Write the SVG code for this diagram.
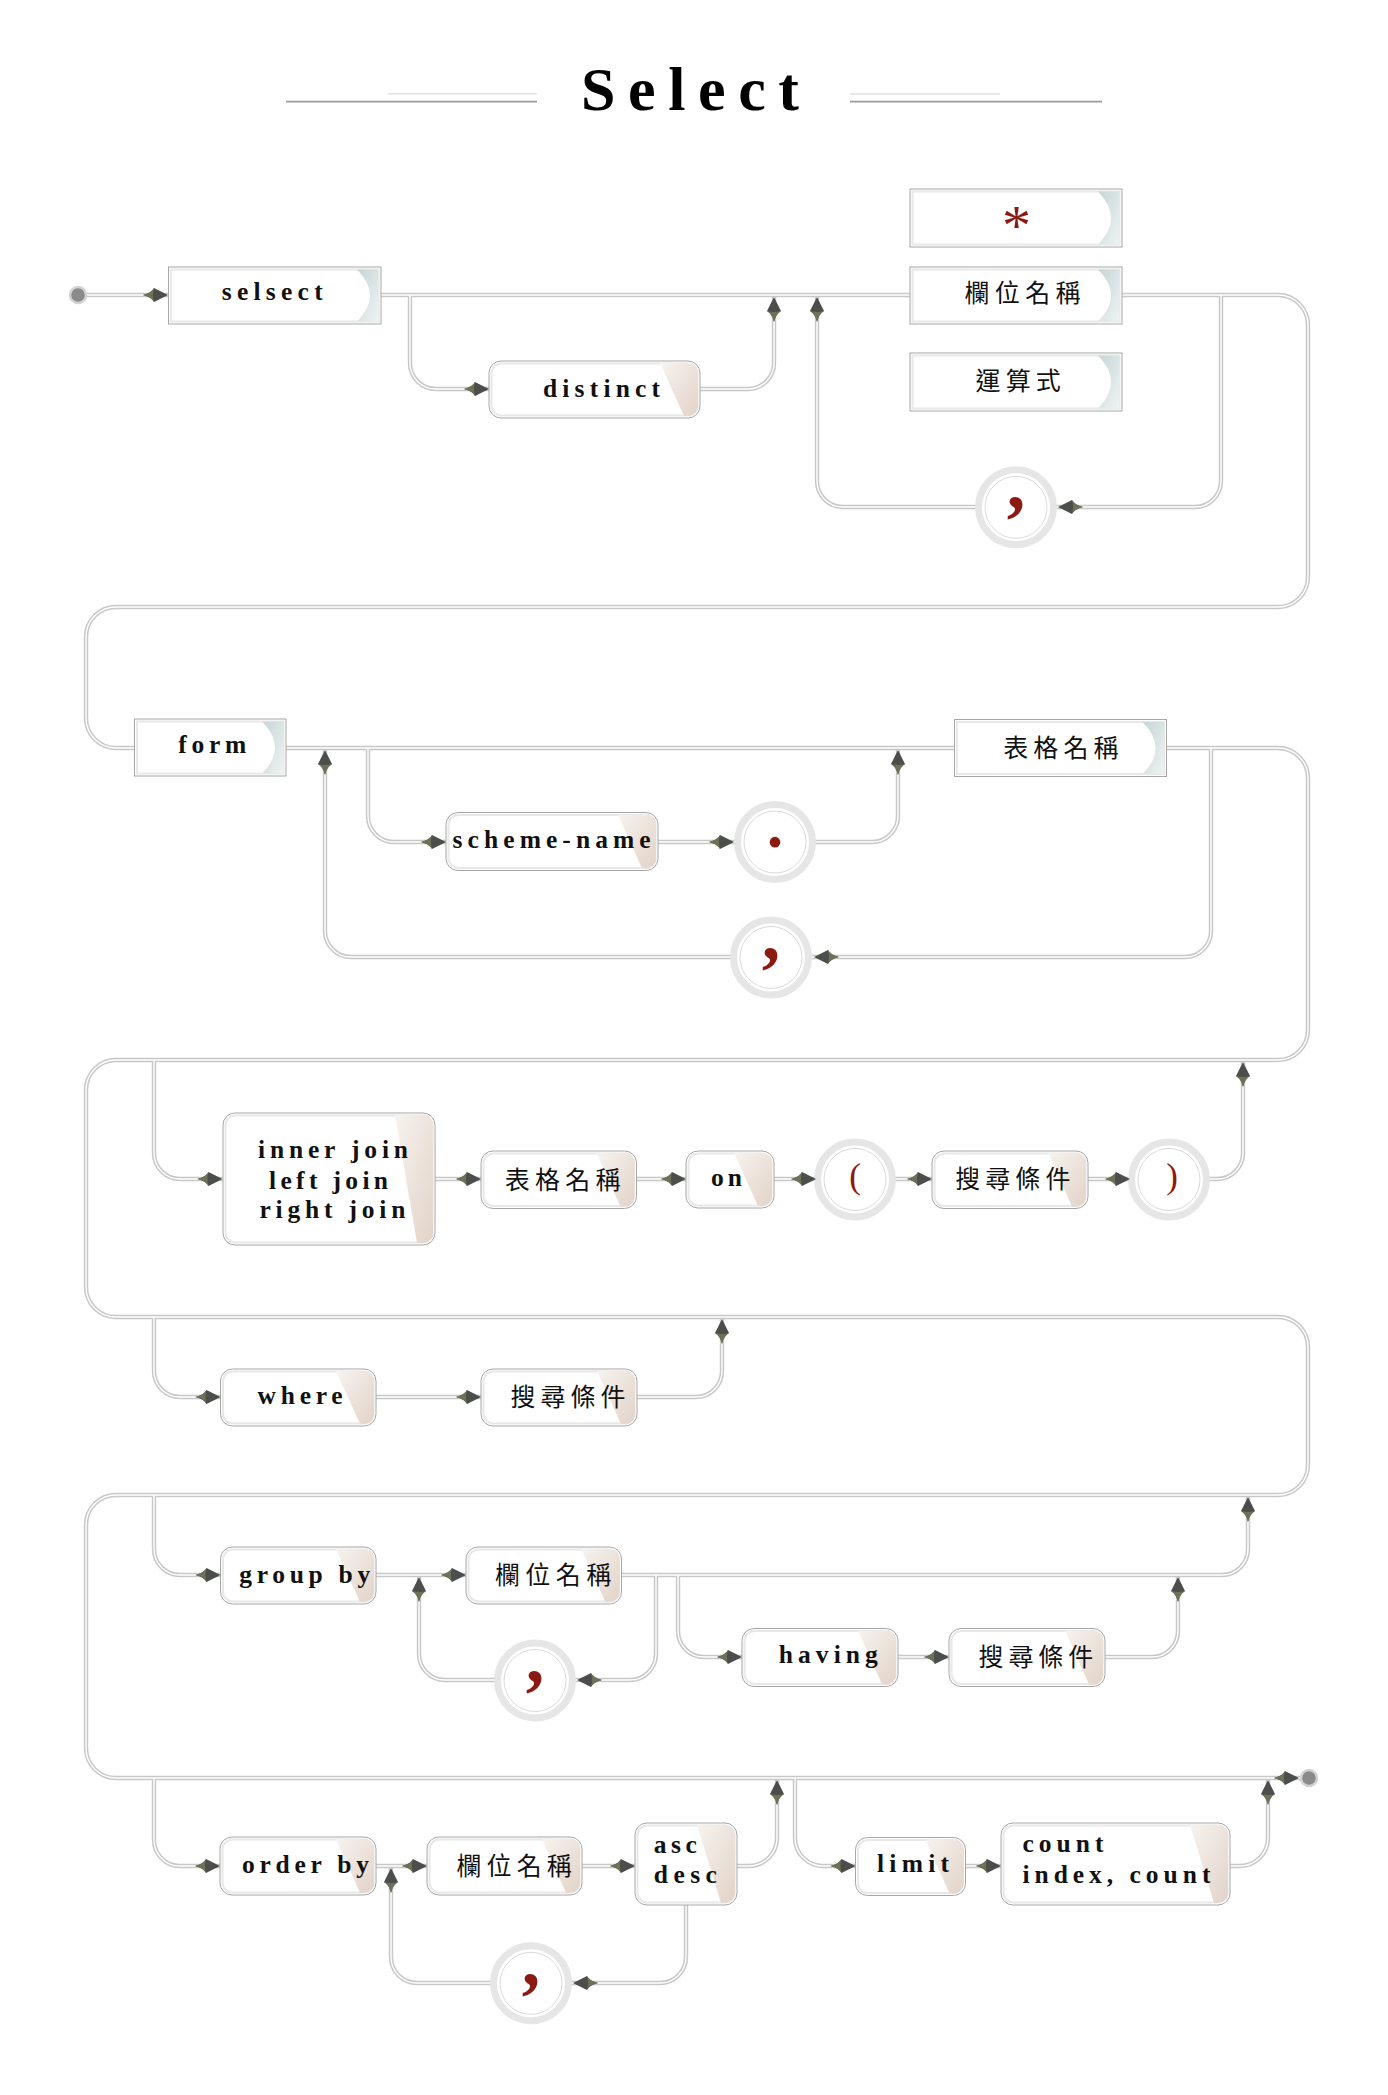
<svg xmlns="http://www.w3.org/2000/svg" width="1388" height="2095" viewBox="0 0 1388 2095">
<style>
.lat{font-family:"Liberation Serif",serif;font-weight:bold;font-size:25.5px;fill:#111}
.cjk{font-family:"Noto Sans CJK TC","Noto Sans CJK SC",sans-serif;font-size:25px;fill:#111}
.sym{font-family:"Liberation Serif",serif;fill:#8b1a12}
.wo{fill:none;stroke:#c8c8c8;stroke-width:4.4}
.wi{fill:none;stroke:#fff;stroke-width:1.4}
.bo{fill:#fff;stroke:#a6a6a6;stroke-width:1}
.bi{fill:none;stroke:#e8e8e8;stroke-width:2}
.ring{fill:#fff;stroke:#e6e6e6;stroke-width:7}
.rin{fill:none;stroke:#d0d0d0;stroke-width:0.8}
.tabA{fill:url(#gA)}
.tabB{fill:url(#gB)}
</style>
<defs>
<linearGradient id="gA" x1="0" y1="0" x2="1" y2="1"><stop offset="0" stop-color="#c6d5d5"/><stop offset="1" stop-color="#eef3f3"/></linearGradient>
<linearGradient id="gB" x1="0" y1="0" x2="1" y2="1"><stop offset="0" stop-color="#f7f3ef"/><stop offset="1" stop-color="#e2d3c8"/></linearGradient>
<g id="arw"><path d="M0,0 L-14,-7 Q-16.5,-2 -25,0 Q-16.5,2 -14,7 Z" fill="#4c4e4b"/><path d="M-14,-7 Q-16.5,-2 -25,0 Q-16.5,2 -14,7 Q-16,0 -14,-7 Z" fill="#6d7157"/></g>
<path id="w0" d="M87,295 H1278 A30,30 0 0 1 1308,325 V577 A30,30 0 0 1 1278,607 H116 A30,30 0 0 0 86,637 V718 A30,30 0 0 0 116,748 H1278 A30,30 0 0 1 1308,778 V1030 A30,30 0 0 1 1278,1060 H116 A30,30 0 0 0 86,1090 V1287 A30,30 0 0 0 116,1317 H1278 A30,30 0 0 1 1308,1347 V1465 A30,30 0 0 1 1278,1495 H116 A30,30 0 0 0 86,1525 V1748 A30,30 0 0 0 116,1778 H1300"/>
<path id="w1" d="M410,295 V363 A26,26 0 0 0 436,389 H489"/>
<path id="w2" d="M700,389 H748 A26,26 0 0 0 774,363 V297"/>
<path id="w3" d="M1221,295 V481 A26,26 0 0 1 1195,507 H843 A26,26 0 0 1 817,481 V297"/>
<path id="w4" d="M368,748 V816 A26,26 0 0 0 394,842 H872 A26,26 0 0 0 898,816 V750"/>
<path id="w5" d="M1211,748 V931 A26,26 0 0 1 1185,957 H351 A26,26 0 0 1 325,931 V750"/>
<path id="w6" d="M154,1060 V1153 A26,26 0 0 0 180,1179 H1217 A26,26 0 0 0 1243,1153 V1062"/>
<path id="w7" d="M154,1317 V1371 A26,26 0 0 0 180,1397 H696 A26,26 0 0 0 722,1371 V1319"/>
<path id="w8" d="M154,1495 V1549 A26,26 0 0 0 180,1575 H1222 A26,26 0 0 0 1248,1549 V1497"/>
<path id="w9" d="M656,1575 V1654 A26,26 0 0 1 630,1680 H445 A26,26 0 0 1 419,1654 V1577"/>
<path id="w10" d="M678,1575 V1631 A26,26 0 0 0 704,1657 H1152 A26,26 0 0 0 1178,1631 V1577"/>
<path id="w11" d="M154,1778 V1840 A26,26 0 0 0 180,1866 H749 A28,28 0 0 0 777,1838 V1780"/>
<path id="w12" d="M686,1900 V1957 A26,26 0 0 1 660,1983 H417 A26,26 0 0 1 391,1957 V1868"/>
<path id="w13" d="M795,1778 V1838 A28,28 0 0 0 823,1866 H1240 A28,28 0 0 0 1268,1838 V1780"/>
</defs>
<rect width="1388" height="2095" fill="#fff"/>

<g id="title">
<line x1="286" y1="101.7" x2="537" y2="101.7" stroke="#9c9c9c" stroke-width="1.8"/>
<line x1="388" y1="93.7" x2="537" y2="93.7" stroke="#e2e2e2" stroke-width="1.5"/>
<line x1="850" y1="94" x2="1000" y2="94" stroke="#d0d0d0" stroke-width="1"/>
<line x1="850" y1="101.7" x2="1102" y2="101.7" stroke="#9c9c9c" stroke-width="1.8"/>
<text x="581" y="110" font-family="Liberation Serif,serif" font-weight="bold" font-size="62" fill="#000" textLength="218" lengthAdjust="spacing">Select</text>
</g>

<g id="connectors">
<g class="wo"><use href="#w0"/><use href="#w1"/><use href="#w2"/><use href="#w3"/><use href="#w4"/><use href="#w5"/><use href="#w6"/><use href="#w7"/><use href="#w8"/><use href="#w9"/><use href="#w10"/><use href="#w11"/><use href="#w12"/><use href="#w13"/></g>
<g class="wi"><use href="#w0"/><use href="#w1"/><use href="#w2"/><use href="#w3"/><use href="#w4"/><use href="#w5"/><use href="#w6"/><use href="#w7"/><use href="#w8"/><use href="#w9"/><use href="#w10"/><use href="#w11"/><use href="#w12"/><use href="#w13"/></g>
</g>

<g id="n-start"><circle cx="78" cy="295" r="8" fill="#8a8a8a" stroke="#d2d2d2" stroke-width="2.5"/></g>
<g id="n-end"><circle cx="1309" cy="1778" r="8" fill="#8a8a8a" stroke="#d2d2d2" stroke-width="2.5"/></g>

<g id="n-selsect"><rect class="bo" x="168.5" y="267" width="212.5" height="57"/><rect class="bi" x="171" y="269.5" width="207.5" height="52"/><path class="tabA" d="M357,269.5 H378.5 V321.5 H357 Q383,295.5 357,269.5 Z"/><text class="lat" x="221.7" y="300" textLength="101" lengthAdjust="spacing">selsect</text></g>

<g id="n-distinct"><rect class="bo" x="489" y="361" width="211" height="57" rx="12"/><rect class="bi" x="491.5" y="363.5" width="206" height="52" rx="10"/><path class="tabB" d="M660,363 H688 A10,10 0 0 1 698,373 V406 A10,10 0 0 1 688,416 H684 Z"/><text class="lat" x="543" y="396.7" textLength="117" lengthAdjust="spacing">distinct</text></g>

<g id="n-star"><rect class="bo" x="910" y="189" width="212" height="58"/><rect class="bi" x="912.5" y="191.5" width="207" height="53"/><path class="tabA" d="M1098,191.5 H1119.5 V244.5 H1098 Q1124,218 1098,191.5 Z"/><text class="sym" x="1016.5" y="245" font-size="58" text-anchor="middle">*</text></g>

<g id="n-col1"><rect class="bo" x="910" y="267" width="212" height="57"/><rect class="bi" x="912.5" y="269.5" width="207" height="52"/><path class="tabA" d="M1098,269.5 H1119.5 V321.5 H1098 Q1124,295.5 1098,269.5 Z"/><text class="cjk" x="964.5" y="302.3" textLength="116" lengthAdjust="spacing">欄位名稱</text></g>

<g id="n-expr"><rect class="bo" x="910" y="353" width="212" height="58"/><rect class="bi" x="912.5" y="355.5" width="207" height="53"/><path class="tabA" d="M1098,355.5 H1119.5 V408.5 H1098 Q1124,382 1098,355.5 Z"/><text class="cjk" x="975.5" y="389.5" textLength="85.3" lengthAdjust="spacing">運算式</text></g>

<g id="n-comma1" transform="translate(1016,507.3)"><circle class="ring" r="37.5"/><circle class="rin" r="31"/><text class="sym" x="0" y="1" font-size="74" font-weight="bold" text-anchor="middle">,</text></g>

<g id="n-form"><rect class="bo" x="134.5" y="719" width="151.5" height="57"/><rect class="bi" x="137" y="721.5" width="146.5" height="52"/><path class="tabA" d="M262,721.5 H283.5 V773.5 H262 Q288,747.5 262,721.5 Z"/><text class="lat" x="178.3" y="752.7" textLength="68" lengthAdjust="spacing">form</text></g>

<g id="n-table1"><rect class="bo" x="954.5" y="719.5" width="212" height="57"/><rect class="bi" x="957" y="722" width="207" height="52"/><path class="tabA" d="M1142.5,722 H1164 V774 H1142.5 Q1168.5,748 1142.5,722 Z"/><text class="cjk" x="1003.3" y="757" textLength="115.2" lengthAdjust="spacing">表格名稱</text></g>

<g id="n-scheme"><rect class="bo" x="446" y="812.5" width="212" height="58" rx="12"/><rect class="bi" x="448.5" y="815" width="207" height="53" rx="10"/><path class="tabB" d="M618,814.5 H646 A10,10 0 0 1 656,824.5 V858.5 A10,10 0 0 1 646,868.5 H642 Z"/><text class="lat" x="452.6" y="848.3" textLength="198" lengthAdjust="spacing">scheme-name</text></g>

<g id="n-dot" transform="translate(775,842)"><circle class="ring" r="37.5"/><circle class="rin" r="31"/><text class="sym" x="0" y="5" font-size="66" font-weight="bold" text-anchor="middle">.</text></g>

<g id="n-comma2" transform="translate(771,957.5)"><circle class="ring" r="37.5"/><circle class="rin" r="31"/><text class="sym" x="0" y="1.5" font-size="74" font-weight="bold" text-anchor="middle">,</text></g>

<g id="n-joins"><rect class="bo" x="223" y="1113" width="212" height="132" rx="12"/><rect class="bi" x="225.5" y="1115.5" width="207" height="127" rx="10"/><path class="tabB" d="M395,1115 H423 A10,10 0 0 1 433,1125 V1233 A10,10 0 0 1 423,1243 H417 Z"/>
<text class="lat" x="258" y="1158.3" textLength="150" lengthAdjust="spacing">inner join</text>
<text class="lat" x="269" y="1189" textLength="119" lengthAdjust="spacing">left join</text>
<text class="lat" x="259.4" y="1218.3" textLength="146" lengthAdjust="spacing">right join</text></g>

<g id="n-table2"><rect class="bo" x="481" y="1151" width="155.5" height="57.5" rx="12"/><rect class="bi" x="483.5" y="1153.5" width="150.5" height="52.5" rx="10"/><path class="tabB" d="M596.5,1153 H624.5 A10,10 0 0 1 634.5,1163 V1196.5 A10,10 0 0 1 624.5,1206.5 H620.5 Z"/><text class="cjk" x="504.8" y="1189" textLength="115.8" lengthAdjust="spacing">表格名稱</text></g>

<g id="n-on"><rect class="bo" x="686" y="1151" width="88" height="57" rx="12"/><rect class="bi" x="688.5" y="1153.5" width="83" height="52" rx="10"/><path class="tabB" d="M734,1153 H762 A10,10 0 0 1 772,1163 V1196 A10,10 0 0 1 762,1206 H758 Z"/><text class="lat" x="711" y="1185.7" textLength="31" lengthAdjust="spacing">on</text></g>

<g id="n-lparen" transform="translate(855,1179.5)"><circle class="ring" r="37.5"/><circle class="rin" r="31"/><text class="sym" x="0" y="8" font-size="35" text-anchor="middle">(</text></g>

<g id="n-cond1"><rect class="bo" x="932" y="1151" width="156" height="57.5" rx="12"/><rect class="bi" x="934.5" y="1153.5" width="151" height="52.5" rx="10"/><path class="tabB" d="M1048,1153 H1076 A10,10 0 0 1 1086,1163 V1196.5 A10,10 0 0 1 1076,1206.5 H1072 Z"/><text class="cjk" x="955.3" y="1187.7" textLength="115.1" lengthAdjust="spacing">搜尋條件</text></g>

<g id="n-rparen" transform="translate(1169,1179.5)"><circle class="ring" r="37.5"/><circle class="rin" r="31"/><text class="sym" x="3" y="8" font-size="35" text-anchor="middle">)</text></g>

<g id="n-where"><rect class="bo" x="220.5" y="1369" width="155.5" height="57" rx="12"/><rect class="bi" x="223" y="1371.5" width="150.5" height="52" rx="10"/><path class="tabB" d="M336,1371 H364 A10,10 0 0 1 374,1381 V1414 A10,10 0 0 1 364,1424 H360 Z"/><text class="lat" x="257.6" y="1404" textLength="85" lengthAdjust="spacing">where</text></g>

<g id="n-cond2"><rect class="bo" x="481" y="1369" width="156" height="57" rx="12"/><rect class="bi" x="483.5" y="1371.5" width="151" height="52" rx="10"/><path class="tabB" d="M597,1371 H625 A10,10 0 0 1 635,1381 V1414 A10,10 0 0 1 625,1424 H621 Z"/><text class="cjk" x="510.4" y="1406" textLength="115.1" lengthAdjust="spacing">搜尋條件</text></g>

<g id="n-groupby"><rect class="bo" x="220.5" y="1547" width="155.5" height="57" rx="12"/><rect class="bi" x="223" y="1549.5" width="150.5" height="52" rx="10"/><path class="tabB" d="M336,1549 H364 A10,10 0 0 1 374,1559 V1592 A10,10 0 0 1 364,1602 H360 Z"/><text class="lat" x="239.2" y="1583.3" textLength="131" lengthAdjust="spacing">group by</text></g>

<g id="n-col2"><rect class="bo" x="466" y="1547" width="155.5" height="57" rx="12"/><rect class="bi" x="468.5" y="1549.5" width="150.5" height="52" rx="10"/><path class="tabB" d="M581.5,1549 H609.5 A10,10 0 0 1 619.5,1559 V1592 A10,10 0 0 1 609.5,1602 H605.5 Z"/><text class="cjk" x="494.9" y="1584" textLength="116.3" lengthAdjust="spacing">欄位名稱</text></g>

<g id="n-comma3" transform="translate(535,1680.5)"><circle class="ring" r="37.5"/><circle class="rin" r="31"/><text class="sym" x="0" y="1.5" font-size="74" font-weight="bold" text-anchor="middle">,</text></g>

<g id="n-having"><rect class="bo" x="742" y="1628.5" width="156" height="58" rx="12"/><rect class="bi" x="744.5" y="1631" width="151" height="53" rx="10"/><path class="tabB" d="M858,1630.5 H886 A10,10 0 0 1 896,1640.5 V1674.5 A10,10 0 0 1 886,1684.5 H882 Z"/><text class="lat" x="778.8" y="1663.3" textLength="99" lengthAdjust="spacing">having</text></g>

<g id="n-cond3"><rect class="bo" x="949" y="1628.5" width="156" height="58" rx="12"/><rect class="bi" x="951.5" y="1631" width="151" height="53" rx="10"/><path class="tabB" d="M1065,1630.5 H1093 A10,10 0 0 1 1103,1640.5 V1674.5 A10,10 0 0 1 1093,1684.5 H1089 Z"/><text class="cjk" x="978.5" y="1665.7" textLength="114.8" lengthAdjust="spacing">搜尋條件</text></g>

<g id="n-orderby"><rect class="bo" x="220" y="1837" width="156" height="58" rx="12"/><rect class="bi" x="222.5" y="1839.5" width="151" height="53" rx="10"/><path class="tabB" d="M336,1839 H364 A10,10 0 0 1 374,1849 V1883 A10,10 0 0 1 364,1893 H360 Z"/><text class="lat" x="242" y="1872.7" textLength="127" lengthAdjust="spacing">order by</text></g>

<g id="n-col3"><rect class="bo" x="427" y="1837" width="155" height="58" rx="12"/><rect class="bi" x="429.5" y="1839.5" width="150" height="53" rx="10"/><path class="tabB" d="M542,1839 H570 A10,10 0 0 1 580,1849 V1883 A10,10 0 0 1 570,1893 H566 Z"/><text class="cjk" x="456.4" y="1875" textLength="115.4" lengthAdjust="spacing">欄位名稱</text></g>

<g id="n-ascdesc"><rect class="bo" x="635" y="1823" width="102" height="82" rx="12"/><rect class="bi" x="637.5" y="1825.5" width="97" height="77" rx="10"/><path class="tabB" d="M697,1825 H725 A10,10 0 0 1 735,1835 V1893 A10,10 0 0 1 725,1903 H721 Z"/>
<text class="lat" x="653.8" y="1852.7" textLength="43" lengthAdjust="spacing">asc</text>
<text class="lat" x="653.8" y="1882.7" textLength="63" lengthAdjust="spacing">desc</text></g>

<g id="n-comma4" transform="translate(531,1983.3)"><circle class="ring" r="37.5"/><circle class="rin" r="31"/><text class="sym" x="0" y="1.5" font-size="74" font-weight="bold" text-anchor="middle">,</text></g>

<g id="n-limit"><rect class="bo" x="855.5" y="1837.5" width="110" height="58" rx="12"/><rect class="bi" x="858" y="1840" width="105" height="53" rx="10"/><path class="tabB" d="M925.5,1839.5 H953.5 A10,10 0 0 1 963.5,1849.5 V1883.5 A10,10 0 0 1 953.5,1893.5 H949.5 Z"/><text class="lat" x="877" y="1872.3" textLength="72" lengthAdjust="spacing">limit</text></g>

<g id="n-count"><rect class="bo" x="1001" y="1823" width="229" height="82" rx="12"/><rect class="bi" x="1003.5" y="1825.5" width="224" height="77" rx="10"/><path class="tabB" d="M1190,1825 H1218 A10,10 0 0 1 1228,1835 V1893 A10,10 0 0 1 1218,1903 H1214 Z"/>
<text class="lat" x="1022.4" y="1851.7" textLength="81" lengthAdjust="spacing">count</text>
<text class="lat" x="1022.4" y="1882.7" textLength="188" lengthAdjust="spacing">index, count</text></g>

<g id="arrows">
<use href="#arw" transform="translate(168,295)"/>
<use href="#arw" transform="translate(489,389)"/>
<use href="#arw" transform="translate(774,297) rotate(-90)"/>
<use href="#arw" transform="translate(817,297) rotate(-90)"/>
<use href="#arw" transform="translate(1058,507) rotate(180)"/>
<use href="#arw" transform="translate(446,842)"/>
<use href="#arw" transform="translate(734,842)"/>
<use href="#arw" transform="translate(898,750) rotate(-90)"/>
<use href="#arw" transform="translate(325,750) rotate(-90)"/>
<use href="#arw" transform="translate(814,957) rotate(180)"/>
<use href="#arw" transform="translate(222.5,1179)"/>
<use href="#arw" transform="translate(481,1179)"/>
<use href="#arw" transform="translate(686,1179)"/>
<use href="#arw" transform="translate(816,1179)"/>
<use href="#arw" transform="translate(932,1179)"/>
<use href="#arw" transform="translate(1130,1179)"/>
<use href="#arw" transform="translate(1243,1062) rotate(-90)"/>
<use href="#arw" transform="translate(220.5,1397)"/>
<use href="#arw" transform="translate(481,1397)"/>
<use href="#arw" transform="translate(722,1319) rotate(-90)"/>
<use href="#arw" transform="translate(220.5,1575)"/>
<use href="#arw" transform="translate(466,1575)"/>
<use href="#arw" transform="translate(419,1577) rotate(-90)"/>
<use href="#arw" transform="translate(577,1680) rotate(180)"/>
<use href="#arw" transform="translate(742,1657)"/>
<use href="#arw" transform="translate(949,1657)"/>
<use href="#arw" transform="translate(1178,1577) rotate(-90)"/>
<use href="#arw" transform="translate(1248,1497) rotate(-90)"/>
<use href="#arw" transform="translate(220,1866)"/>
<use href="#arw" transform="translate(427,1866)"/>
<use href="#arw" transform="translate(635,1866)"/>
<use href="#arw" transform="translate(391,1868) rotate(-90)"/>
<use href="#arw" transform="translate(573,1983) rotate(180)"/>
<use href="#arw" transform="translate(855.5,1866)"/>
<use href="#arw" transform="translate(1001,1866)"/>
<use href="#arw" transform="translate(777,1780) rotate(-90)"/>
<use href="#arw" transform="translate(1268,1780) rotate(-90)"/>
<use href="#arw" transform="translate(1299,1778)"/>
</g>
</svg>
